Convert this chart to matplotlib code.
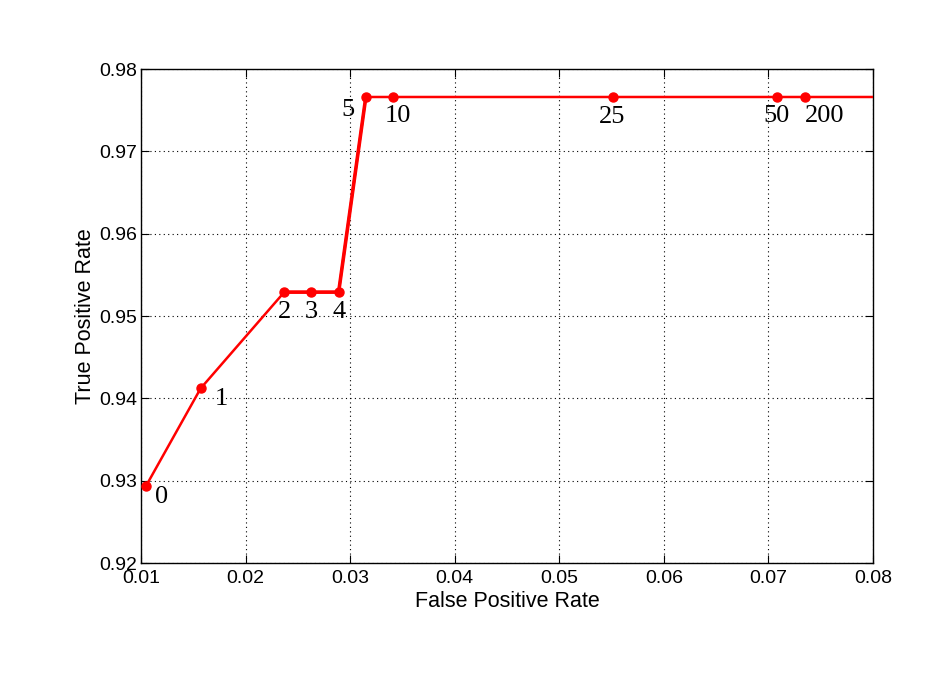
import matplotlib
matplotlib.use("Agg")
import matplotlib.pyplot as plt

fpr = [0.0105, 0.0157, 0.0237, 0.0263, 0.0289, 0.0315, 0.0341, 0.0551, 0.0708, 0.0735]
tpr = [0.9294, 0.9412, 0.9529, 0.9529, 0.9529, 0.9766, 0.9766, 0.9766, 0.9766, 0.9766]
labels = ["0", "1", "2", "3", "4", "5", "10", "25", "50", "200"]
tail_fpr = [0.0735, 0.10]
tail_tpr = [0.9766, 0.9766]
# label offsets in pixels (dx, dy)
offsets = [(15, -11), (21, -11), (0, -20), (0, -20), (0, -20), (-18, -13), (5, -19), (-1, -20), (0, -19), (20, -19)]

fig = plt.figure(figsize=(9.29, 6.83), dpi=100)
ax = fig.add_axes([141/929, 1 - 563/683, (873-141)/929, (563-69)/683])

ax.plot(fpr + tail_fpr[1:], tpr + tail_tpr[1:], color="red", lw=1.8, zorder=3)
ax.plot(fpr[2:6], tpr[2:6], color="red", lw=2.6, zorder=3)
ax.plot(fpr, tpr, linestyle="none", marker="o", color="red", markersize=6.5, zorder=4)

for x, y, t, (dx, dy) in zip(fpr, tpr, labels, offsets):
    ax.annotate(t, (x, y), xytext=(dx, dy), textcoords="offset pixels",
                ha="center", va="center", fontsize=19, family="Liberation Serif", color="black")

ax.set_xlim(0.01, 0.08)
ax.set_ylim(0.92, 0.98)
ax.set_xticks([0.01, 0.02, 0.03, 0.04, 0.05, 0.06, 0.07, 0.08])
ax.set_xticklabels(["0.01", "0.02", "0.03", "0.04", "0.05", "0.06", "0.07", "0.08"])
ax.set_yticks([0.92, 0.93, 0.94, 0.95, 0.96, 0.97, 0.98])
ax.set_yticklabels(["0.92", "0.93", "0.94", "0.95", "0.96", "0.97", "0.98"])
ax.grid(True, linestyle=(0, (1, 3)), color="black", linewidth=0.8)
ax.tick_params(direction="in", length=6, labelsize=14, top=True, right=True)
ax.tick_params(axis="x", pad=5)
ax.tick_params(axis="y", pad=3)
for lab in ax.get_xticklabels() + ax.get_yticklabels():
    lab.set_family("Liberation Sans")
for s in ax.spines.values():
    s.set_linewidth(1.0)
ax.set_xlabel("False Positive Rate", fontsize=15.5, family="Liberation Sans", labelpad=3)
ax.set_ylabel("True Positive Rate", fontsize=15.5, family="Liberation Sans", labelpad=2)

fig.savefig("out.png", dpi=100)
